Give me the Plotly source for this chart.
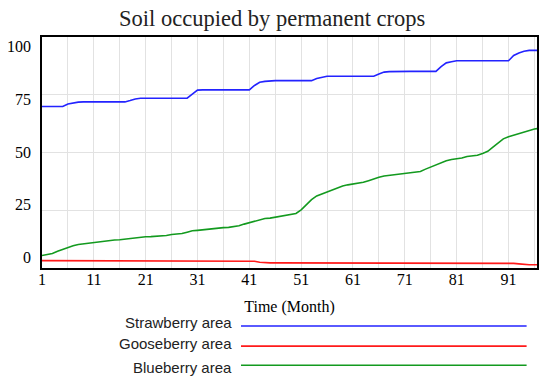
import plotly.graph_objects as go

months = list(range(1, 98))

strawberry = [69.9, 69.9, 69.9, 69.9, 69.9, 71.0, 71.5, 71.8, 71.9, 71.9,
              71.9, 71.9, 71.9, 71.9, 71.9, 71.9, 71.9, 72.5, 73.2, 73.5,
              73.5, 73.5, 73.5, 73.5, 73.5, 73.5, 73.5, 73.5, 73.5, 75.3,
              77.0, 77.1, 77.1, 77.1, 77.1, 77.1, 77.1, 77.1, 77.1, 77.1,
              77.1, 79.0, 80.4, 80.8, 81.1, 81.1, 81.1, 81.1, 81.1, 81.1,
              81.1, 81.1, 81.1, 82.0, 82.6, 83.0, 83.0, 83.0, 83.0, 83.0,
              83.0, 83.0, 83.0, 83.0, 83.0, 84.0, 84.8, 85.0, 85.1, 85.1,
              85.1, 85.1, 85.1, 85.1, 85.1, 85.1, 85.1, 87.2, 88.8, 89.3,
              89.7, 89.7, 89.7, 89.7, 89.7, 89.7, 89.7, 89.7, 89.7, 89.7,
              89.7, 92.0, 93.1, 93.8, 94.2, 94.2, 94.2]

gooseberry = [3.2] * 41 + [2.9, 2.5] + [2.2] * 48 + [2.0, 1.8, 1.5, 1.4, 1.4, 1.4]

blueberry = [5.4, 5.8, 6.3, 7.2, 8.1, 8.9, 9.6, 10.2, 10.5, 10.9,
             11.2, 11.5, 11.7, 11.9, 12.1, 12.2, 12.5, 12.9, 13.2, 13.4,
             13.5, 13.6, 13.7, 13.8, 14.1, 14.5, 14.6, 14.9, 15.5, 16.1,
             16.3, 16.6, 16.8, 17.1, 17.4, 17.5, 17.6, 17.9, 18.3, 19.0,
             19.6, 20.4, 21.0, 21.4, 21.6, 22.0, 22.4, 22.8, 23.0, 23.6,
             25.2, 27.4, 29.6, 31.2, 32.1, 33.0, 33.9, 34.8, 35.5, 36.0,
             36.3, 36.7, 37.1, 37.8, 38.6, 39.3, 39.8, 40.1, 40.2, 40.6,
             41.1, 41.4, 41.5, 41.8, 42.8, 43.7, 44.8, 45.8, 46.4, 47.0,
             47.3, 47.6, 48.3, 48.7, 48.8, 49.6, 50.5, 52.3, 54.3, 55.9,
             56.8, 57.5, 58.2, 58.8, 59.6, 60.2, 60.5]

series_names = ["Strawberry area", "Gooseberry area", "Blueberry area"]
series_values = [strawberry, gooseberry, blueberry]
series_colors = ["#2323ff", "#ff1a1a", "#139a1f"]

x_tick_vals = [1, 11, 21, 31, 41, 51, 61, 71, 81, 91]
y_tick_vals = [0, 25, 50, 75, 100]

title_text = "Soil occupied by permanent crops"
x_title = "Time (Month)"

serif = "Liberation Serif, Times New Roman, serif"
sans = "Liberation Sans, Arial, sans-serif"

fig = go.Figure()
for name, vals, col in zip(series_names, series_values, series_colors):
    fig.add_trace(go.Scatter(x=months, y=vals, mode="lines", name=name,
                             line=dict(color=col, width=1.6), showlegend=False))

# y tick labels (drawn as text, slightly offset from gridlines as in the reference)
for v in y_tick_vals:
    fig.add_annotation(x=0, xref="paper", xanchor="right", xshift=-9,
                       y=4.5 + 0.914 * v, yref="y", yanchor="middle",
                       text=str(v), showarrow=False,
                       font=dict(family=serif, size=16, color="black"))

# custom legend: label on the left, long line sample on the right
legend_text_y = [-0.238, -0.327, -0.429]
legend_line_y = [-0.251, -0.338, -0.421]
for name, col, ty, ly in zip(series_names, series_colors, legend_text_y, legend_line_y):
    fig.add_annotation(x=0.3885, xref="paper", xanchor="right",
                       y=ty, yref="paper", yanchor="middle",
                       text=name, showarrow=False,
                       font=dict(family=sans, size=15, color="#222222"))
    fig.add_shape(type="line", xref="paper", yref="paper",
                  x0=0.402, x1=0.979, y0=ly, y1=ly,
                  line=dict(color=col, width=1.6))

# the page body adds an 8px offset, so the figure is 8px smaller and shifted
fig.update_layout(
    width=542, height=374,
    margin=dict(l=34, r=11, t=29, b=114),
    paper_bgcolor="white", plot_bgcolor="white",
    title=dict(text=title_text, x=0.465, xanchor="center", xref="paper",
               y=0.972, yref="container", yanchor="middle",
               font=dict(family=serif, size=22.5, color="#222222")),
)
fig.update_xaxes(
    range=[1, 96.5], tickvals=x_tick_vals, ticktext=[str(v) for v in x_tick_vals],
    showgrid=True, gridcolor="#e2e2e2", gridwidth=1,
    minor=dict(tick0=1, dtick=5, showgrid=True, gridcolor="#e2e2e2", gridwidth=1),
    showline=True, linecolor="black", linewidth=2, mirror=True,
    ticks="", zeroline=False, ticklabelstandoff=-4,
    tickfont=dict(family=serif, size=16, color="black"),
    title=dict(text=x_title, font=dict(family=serif, size=16, color="black"), standoff=14),
)
fig.update_yaxes(
    range=[0, 100], tickvals=y_tick_vals, showticklabels=False,
    showgrid=True, gridcolor="#e2e2e2", gridwidth=1,
    showline=True, linecolor="black", linewidth=2, mirror=True,
    ticks="", zeroline=False,
)

fig.write_html("out.html")
